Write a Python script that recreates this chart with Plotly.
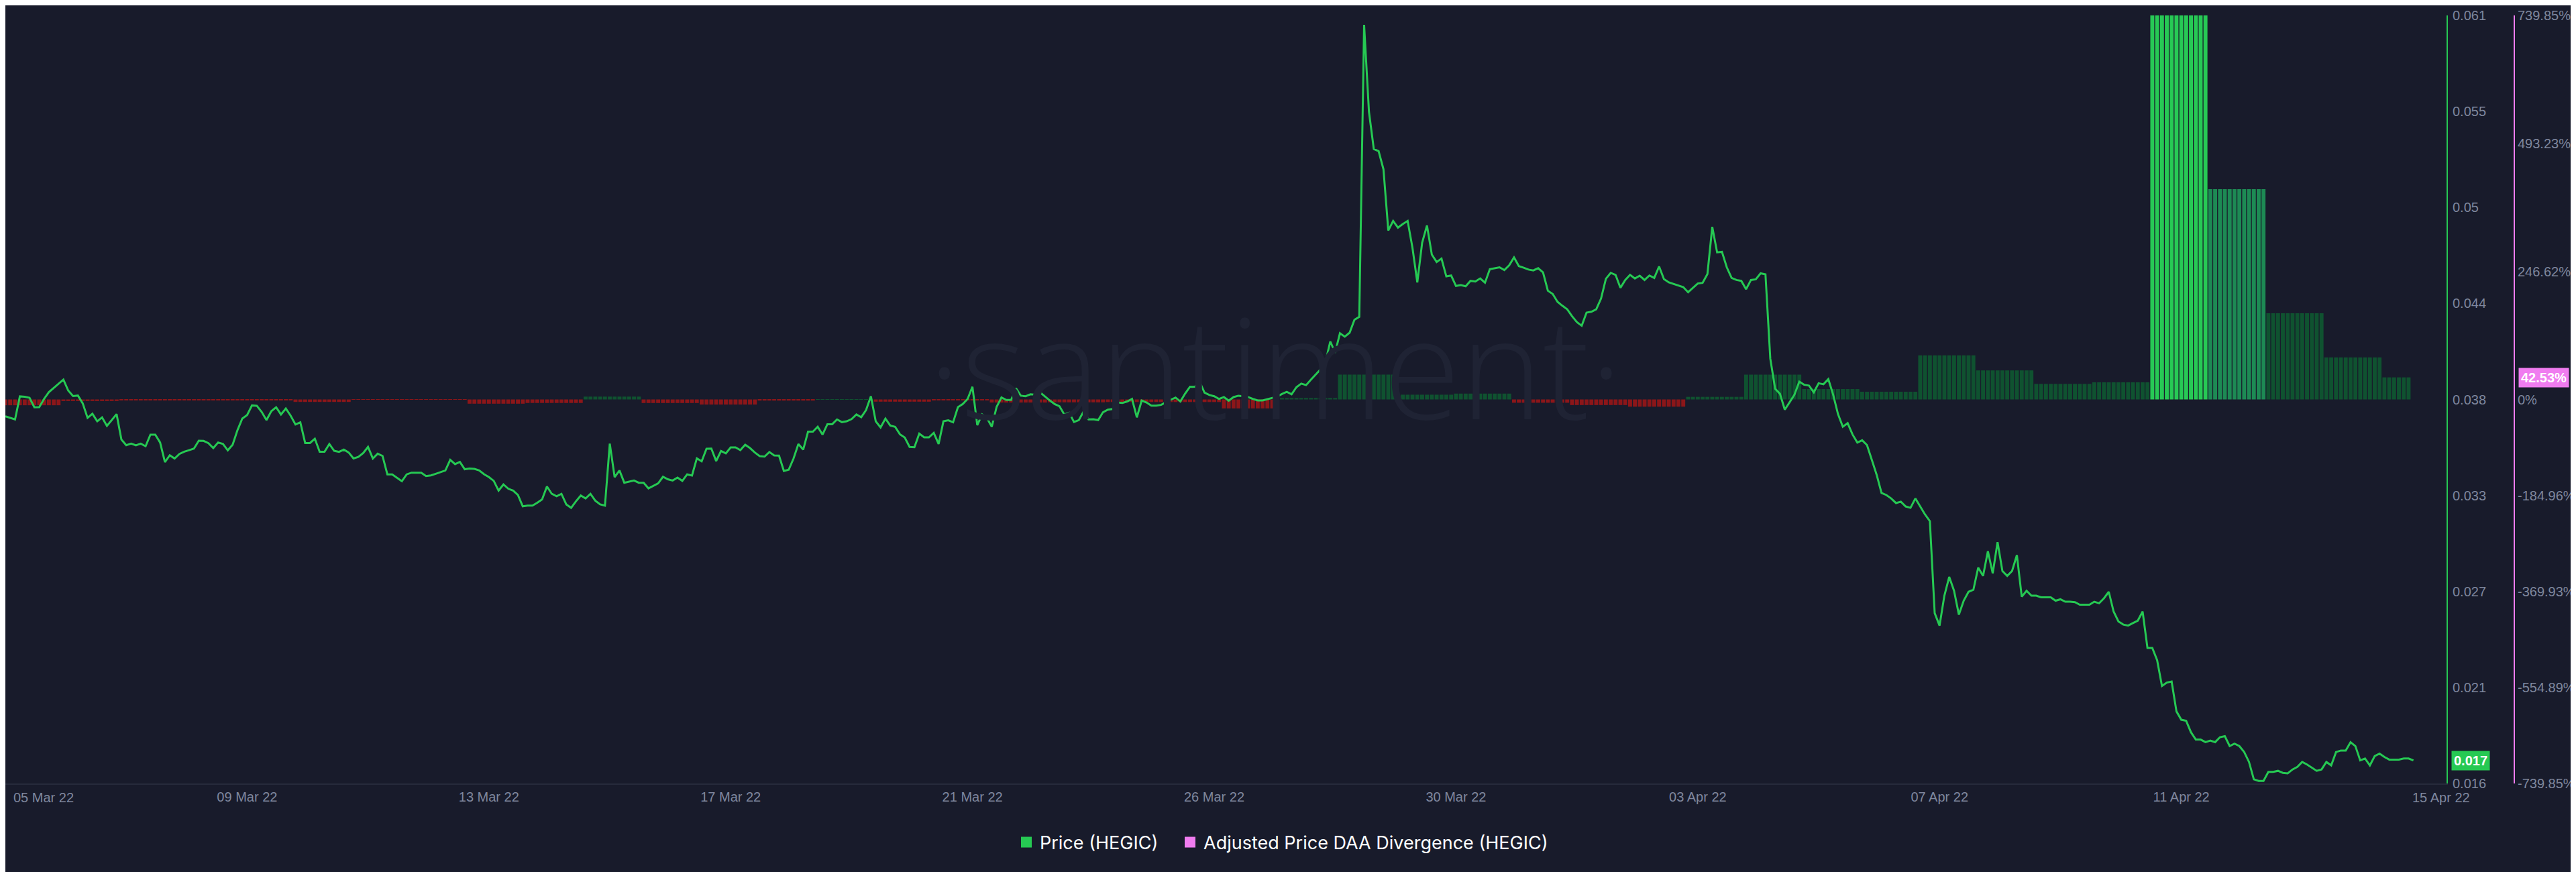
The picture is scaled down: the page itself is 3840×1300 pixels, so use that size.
import pandas as pd
import plotly.graph_objects as go

# ---------------- DATA ----------------
start = pd.Timestamp("2022-03-05 00:00")
step_hours = 2  # price sampled every 2 hours

# Price (HEGIC), one row per day (12 two-hour points), last row partial
price = [
    0.03751, 0.03742, 0.03733, 0.03868, 0.03866, 0.03860, 0.03804, 0.03805, 0.03853, 0.03893, 0.03916, 0.03942,
    0.03966, 0.03902, 0.03870, 0.03873, 0.03827, 0.03742, 0.03766, 0.03722, 0.03745, 0.03695, 0.03729, 0.03764,
    0.03615, 0.03582, 0.03591, 0.03581, 0.03591, 0.03576, 0.03644, 0.03644, 0.03598, 0.03483, 0.03523, 0.03504,
    0.03531, 0.03544, 0.03553, 0.03562, 0.03608, 0.03607, 0.03594, 0.03565, 0.03598, 0.03589, 0.03552, 0.03585,
    0.03670, 0.03738, 0.03759, 0.03815, 0.03813, 0.03777, 0.03729, 0.03781, 0.03804, 0.03762, 0.03797, 0.03755,
    0.03703, 0.03716, 0.03595, 0.03595, 0.03620, 0.03543, 0.03543, 0.03589, 0.03549, 0.03543, 0.03556, 0.03539,
    0.03504, 0.03513, 0.03536, 0.03572, 0.03504, 0.03532, 0.03519, 0.03411, 0.03411, 0.03391, 0.03371, 0.03411,
    0.03421, 0.03421, 0.03421, 0.03401, 0.03405, 0.03414, 0.03424, 0.03434, 0.03496, 0.03471, 0.03484, 0.03441,
    0.03445, 0.03443, 0.03434, 0.03412, 0.03395, 0.03373, 0.03316, 0.03352, 0.03327, 0.03316, 0.03290, 0.03224,
    0.03228, 0.03228, 0.03245, 0.03264, 0.03340, 0.03297, 0.03283, 0.03297, 0.03235, 0.03215, 0.03253, 0.03287,
    0.03270, 0.03297, 0.03257, 0.03235, 0.03228, 0.03591, 0.03395, 0.03434, 0.03362, 0.03369, 0.03375, 0.03362,
    0.03362, 0.03329, 0.03345, 0.03358, 0.03397, 0.03382, 0.03375, 0.03392, 0.03373, 0.03411, 0.03404, 0.03505,
    0.03487, 0.03561, 0.03562, 0.03489, 0.03548, 0.03534, 0.03569, 0.03569, 0.03553, 0.03585, 0.03565, 0.03539,
    0.03518, 0.03515, 0.03542, 0.03522, 0.03521, 0.03431, 0.03438, 0.03504, 0.03589, 0.03556, 0.03661, 0.03661,
    0.03690, 0.03644, 0.03705, 0.03705, 0.03733, 0.03717, 0.03722, 0.03735, 0.03762, 0.03746, 0.03788, 0.03869,
    0.03722, 0.03686, 0.03738, 0.03697, 0.03690, 0.03646, 0.03627, 0.03572, 0.03570, 0.03650, 0.03628, 0.03628,
    0.03654, 0.03589, 0.03722, 0.03728, 0.03716, 0.03805, 0.03823, 0.03853, 0.03924, 0.03699, 0.03762, 0.03741,
    0.03690, 0.03807, 0.03862, 0.03847, 0.03847, 0.03916, 0.03872, 0.03869, 0.03880, 0.03878, 0.03891, 0.03866,
    0.03844, 0.03823, 0.03810, 0.03762, 0.03772, 0.03718, 0.03729, 0.03780, 0.03733, 0.03734, 0.03729, 0.03775,
    0.03790, 0.03794, 0.03832, 0.03829, 0.03838, 0.03853, 0.03745, 0.03844, 0.03832, 0.03814, 0.03814, 0.03818,
    0.03834, 0.03848, 0.03861, 0.03838, 0.03885, 0.03925, 0.03924, 0.03952, 0.03890, 0.03876, 0.03869, 0.03853,
    0.03864, 0.03843, 0.03864, 0.03872, 0.03869, 0.03864, 0.03853, 0.03844, 0.03844, 0.03851, 0.03861, 0.03866,
    0.03882, 0.03895, 0.03880, 0.03922, 0.03943, 0.03934, 0.03966, 0.03997, 0.04027, 0.04068, 0.04190, 0.04124,
    0.04238, 0.04218, 0.04241, 0.04317, 0.04334, 0.06045, 0.05536, 0.05317, 0.05305, 0.05199, 0.04840, 0.04896,
    0.04857, 0.04878, 0.04896, 0.04738, 0.04536, 0.04768, 0.04869, 0.04699, 0.04655, 0.04675, 0.04571, 0.04576,
    0.04515, 0.04520, 0.04513, 0.04545, 0.04541, 0.04559, 0.04534, 0.04613, 0.04620, 0.04624, 0.04608, 0.04636,
    0.04682, 0.04631, 0.04622, 0.04611, 0.04606, 0.04619, 0.04594, 0.04487, 0.04468, 0.04422, 0.04399, 0.04378,
    0.04338, 0.04303, 0.04282, 0.04359, 0.04364, 0.04378, 0.04441, 0.04557, 0.04592, 0.04580, 0.04504, 0.04550,
    0.04580, 0.04559, 0.04575, 0.04550, 0.04576, 0.04562, 0.04629, 0.04555, 0.04536, 0.04527, 0.04515, 0.04508,
    0.04478, 0.04504, 0.04529, 0.04533, 0.04585, 0.04861, 0.04712, 0.04715, 0.04624, 0.04562, 0.04550, 0.04545,
    0.04496, 0.04550, 0.04554, 0.04589, 0.04583, 0.04089, 0.03913, 0.03883, 0.03790, 0.03834, 0.03878, 0.03954,
    0.03936, 0.03931, 0.03892, 0.03945, 0.03939, 0.03969, 0.03878, 0.03764, 0.03690, 0.03711, 0.03645, 0.03597,
    0.03611, 0.03583, 0.03492, 0.03408, 0.03302, 0.03290, 0.03270, 0.03243, 0.03251, 0.03223, 0.03215, 0.03270,
    0.03223, 0.03176, 0.03137, 0.02598, 0.02525, 0.02700, 0.02810, 0.02729, 0.02589, 0.02671, 0.02723, 0.02735,
    0.02865, 0.02816, 0.02961, 0.02831, 0.03014, 0.02845, 0.02816, 0.02845, 0.02938, 0.02694, 0.02729, 0.02700,
    0.02700, 0.02691, 0.02691, 0.02691, 0.02671, 0.02679, 0.02665, 0.02665, 0.02662, 0.02647, 0.02647, 0.02647,
    0.02665, 0.02656, 0.02685, 0.02723, 0.02607, 0.02549, 0.02531, 0.02525, 0.02540, 0.02554, 0.02607, 0.02394,
    0.02394, 0.02322, 0.02171, 0.02191, 0.02197, 0.02022, 0.01973, 0.01967, 0.01900, 0.01857, 0.01857, 0.01842,
    0.01851, 0.01842, 0.01871, 0.01877, 0.01819, 0.01833, 0.01819, 0.01784, 0.01726, 0.01624, 0.01615, 0.01615,
    0.01668, 0.01668, 0.01674, 0.01662, 0.01659, 0.01682, 0.01697, 0.01726, 0.01711, 0.01691, 0.01674, 0.01682,
    0.01726, 0.01706, 0.01784, 0.01793, 0.01793, 0.01842, 0.01819, 0.01735, 0.01746, 0.01706, 0.01761, 0.01775,
    0.01755, 0.01740, 0.01740, 0.01740, 0.01746, 0.01746, 0.01735,
]

# Adjusted Price DAA Divergence (HEGIC), daily values in %
divergence_daily = [
    -11.2, -3.0, -0.8, -0.8, -0.8, -4.8, -0.6, -0.6, -8.2, -6.8,
    5.5, -6.9, -9.9, -2.2, 0.6, -4.3, -0.8, -6.0, -5.6, -5.0,
    -5.0, -17.3, 2.8, 47.9, 9.2, 11.3, -6.4, -10.8, -14.0, 5.0,
    47.8, 20.0, 14.9, 85.0, 56.0, 30.0, 33.0, 739.85, 405.0, 166.0,
    81.0, 42.53,
]
bars_last_day = 6  # bars drawn on the last (partial) day

tick_labels = ["05 Mar 22", "09 Mar 22", "13 Mar 22", "17 Mar 22", "21 Mar 22", "26 Mar 22",
               "30 Mar 22", "03 Apr 22", "07 Apr 22", "11 Apr 22", "15 Apr 22"]
tick_step_hours = 100

price_tickvals = [0.016, 0.021625, 0.02725, 0.032875, 0.0385, 0.044125, 0.04975, 0.055375, 0.061]
price_ticktext = ["0.016", "0.021", "0.027", "0.033", "0.038", "0.044", "0.05", "0.055", "0.061"]
pct_tickvals = [-739.85, -554.89, -369.93, -184.96, 0, 246.62, 493.23, 739.85]
pct_ticktext = ["-739.85%", "-554.89%", "-369.93%", "-184.96%", "0%", "246.62%", "493.23%", "739.85%"]

# ---------------- STYLE ----------------
BG = "#181b2b"
GREEN = "#26c953"
PINK = "#f07cf0"
TICK_COLOR = "#7f879e"
TICK_FONT = "Liberation Sans"
LEGEND_FONT = "Inter"
X_END_HOURS = 1009.7
DOMAIN_END = 3639 / 3740

price_times = [start + pd.Timedelta(hours=step_hours * i) for i in range(len(price))]
n_bars = 12 * (len(divergence_daily) - 1) + bars_last_day
bar_times = price_times[:n_bars]
bar_vals = [divergence_daily[i // 12] for i in range(n_bars)]


def bar_color(v):
    if v < 0:
        return "#8c1619"
    if v >= 600:
        return "#27c955"
    if v >= 300:
        return "#1d8a54"
    return "#0f5230"


bar_colors = [bar_color(v) for v in bar_vals]

tick_times = [start + pd.Timedelta(hours=tick_step_hours * k) for k in range(len(tick_labels))]

fig = go.Figure()
fig.add_trace(go.Bar(
    x=bar_times, y=bar_vals, yaxis="y",
    marker=dict(color=bar_colors, line=dict(width=0)),
    showlegend=False, hoverinfo="skip",
))
fig.add_trace(go.Scatter(
    x=price_times, y=price, yaxis="y2", mode="lines",
    line=dict(color=GREEN, width=3), showlegend=False,
))
fig.add_trace(go.Scatter(
    x=[None], y=[None], mode="markers", name="Price (HEGIC)", legend="legend",
    marker=dict(symbol="square", size=18, color=GREEN),
))
fig.add_trace(go.Scatter(
    x=[None], y=[None], mode="markers", name="Adjusted Price DAA Divergence (HEGIC)", legend="legend2",
    marker=dict(symbol="square", size=18, color=PINK),
))

tickfont = dict(family=TICK_FONT, size=20, color=TICK_COLOR)
label_y = (1160 - 1181) / 1145

annotations = [
    # watermark
    dict(text="·santiment·", xref="paper", yref="paper", x=1893 / 3740, y=(1160 - 536) / 1145,
         xanchor="center", yanchor="middle", showarrow=False,
         font=dict(family="Open Sans", size=208, color="#1f2334", weight=300)),
    # first / last date labels
    dict(text=tick_labels[0], xref="x", yref="paper", x=tick_times[0], y=label_y,
         xanchor="left", yanchor="middle", xshift=10, showarrow=False, font=tickfont),
    dict(text=tick_labels[-1], xref="x", yref="paper", x=tick_times[-1], y=label_y,
         xanchor="center", yanchor="middle", xshift=27, showarrow=False, font=tickfont),
    # last value badges
    dict(text=f"{price[-1]:.3f}", xref="paper", yref="y2", x=3646 / 3740, y=price[-1],
         xanchor="left", yanchor="middle", showarrow=False, bgcolor=GREEN, borderpad=3,
         font=dict(family=TICK_FONT, size=20, color="white", weight="bold")),
    dict(text=f"{divergence_daily[-1]:.2f}%", xref="paper", yref="y", x=3746 / 3740, y=divergence_daily[-1],
         xanchor="left", yanchor="middle", showarrow=False, bgcolor=PINK, borderpad=3,
         font=dict(family=TICK_FONT, size=20, color="white", weight="bold")),
]

legend_common = dict(
    orientation="h", xanchor="left", y=(1160 - 1248) / 1145, yanchor="middle",
    font=dict(family=LEGEND_FONT, size=27, color="white"), bgcolor="rgba(0,0,0,0)",
    itemclick=False, itemdoubleclick=False,
)

fig.update_layout(
    width=3840, height=1300,
    paper_bgcolor=BG, plot_bgcolor=BG,
    margin=dict(l=0, r=100, t=15, b=140),
    bargap=0.18,
    font=dict(family=LEGEND_FONT, color="white"),
    xaxis=dict(
        type="date", domain=[0, DOMAIN_END],
        range=[start, start + pd.Timedelta(hours=X_END_HOURS)],
        tickvals=tick_times[1:-1], ticktext=tick_labels[1:-1],
        showgrid=False, zeroline=False, showline=True, linecolor="#262a3b", linewidth=2,
        ticks="", ticklen=0, tickfont=tickfont, ticklabelstandoff=1,
    ),
    yaxis=dict(
        range=[-739.85, 739.85], tickvals=pct_tickvals, ticktext=pct_ticktext,
        side="right", anchor="free", position=1.0,
        showline=True, linecolor=PINK, linewidth=2,
        showgrid=False, zeroline=False, ticks="", ticklen=0, tickfont=tickfont, ticklabelstandoff=0,
    ),
    yaxis2=dict(
        range=[0.016, 0.061], tickvals=price_tickvals, ticktext=price_ticktext,
        overlaying="y", side="right", anchor="x",
        showline=True, linecolor=GREEN, linewidth=2,
        showgrid=False, zeroline=False, ticks="", ticklen=0, tickfont=tickfont, ticklabelstandoff=3,
    ),
    legend=dict(x=1502 / 3740, **legend_common),
    legend2=dict(x=1746 / 3740, **legend_common),
    annotations=annotations,
    showlegend=True,
)

fig.write_html("out.html")
